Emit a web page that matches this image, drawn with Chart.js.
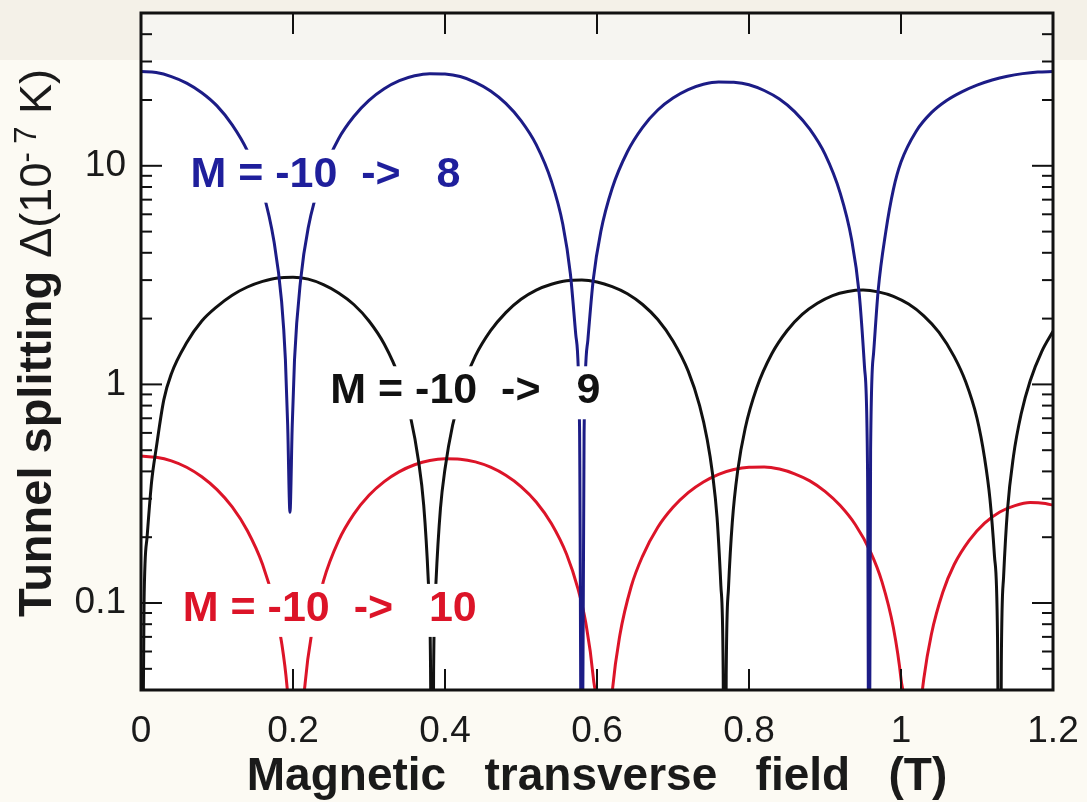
<!DOCTYPE html>
<html>
<head>
<meta charset="utf-8">
<script src="https://cdn.jsdelivr.net/npm/chart.js@4.4.1/dist/chart.umd.min.js"></script>
<style>
  html, body { margin: 0; padding: 0; background: #fcfaf3; }
  #wrap { width: 1087px; height: 802px; }
</style>
</head>
<body>
<div id="wrap"><canvas id="c"></canvas></div>
<script>
// field values (T) and tunnel splitting (10^-7 K)
const blueX = [0,0.02,0.04,0.06,0.08,0.10,0.12,0.14,0.16,0.175,0.185,0.19,0.193,0.196,0.199,0.202,0.21,0.22,0.24,0.26,0.28,0.30,0.32,0.34,0.36,0.38,0.40,0.42,0.44,0.46,0.48,0.50,0.52,0.54,0.555,0.565,0.572,0.577,0.58,0.583,0.588,0.595,0.605,0.62,0.64,0.66,0.68,0.70,0.72,0.74,0.76,0.78,0.80,0.82,0.84,0.86,0.88,0.90,0.92,0.935,0.945,0.952,0.956,0.958,0.960,0.964,0.97,0.98,0.99,1.0,1.02,1.04,1.06,1.08,1.10,1.12,1.14,1.16,1.18,1.20];
const blueY = [27,26.7,25.6,23.9,21.6,18.8,15.4,11.7,7.7,4.5,2.4,1.3,0.65,0.26,0.65,1.3,3.0,5.2,9.3,13.3,16.8,19.9,22.5,24.5,25.8,26.4,26.3,25.6,24.1,22.0,19.3,16.1,12.5,8.5,5.4,3.2,1.7,0.65,0.005,0.6,1.6,3.0,5.0,7.9,11.6,15.0,18.0,20.4,22.3,23.6,24.2,24.1,23.5,22.1,20.2,17.7,14.7,11.3,7.5,4.6,2.6,1.2,0.4,0.005,0.5,1.4,2.7,5.0,7.8,10.4,14.4,17.5,19.9,21.8,23.4,24.7,25.7,26.4,26.85,27.0];

const blackX = [0,0.004,0.008,0.014,0.02,0.03,0.04,0.06,0.08,0.10,0.12,0.14,0.16,0.18,0.20,0.22,0.24,0.26,0.28,0.30,0.32,0.34,0.355,0.365,0.372,0.378,0.381,0.383,0.385,0.388,0.394,0.40,0.41,0.425,0.44,0.46,0.48,0.50,0.52,0.54,0.56,0.58,0.60,0.62,0.64,0.66,0.68,0.70,0.72,0.735,0.745,0.752,0.758,0.763,0.766,0.768,0.770,0.773,0.778,0.785,0.795,0.81,0.83,0.85,0.87,0.89,0.91,0.93,0.95,0.97,0.99,1.01,1.03,1.05,1.07,1.085,1.10,1.11,1.117,1.123,1.127,1.130,1.132,1.135,1.14,1.148,1.158,1.17,1.185,1.2];
const blackY = [0.001,0.10,0.20,0.36,0.51,0.85,1.12,1.55,1.95,2.27,2.56,2.79,2.96,3.07,3.09,3.03,2.86,2.62,2.32,1.95,1.53,1.07,0.70,0.45,0.28,0.127,0.05,0.001,0.049,0.122,0.27,0.41,0.65,1.01,1.35,1.76,2.13,2.45,2.70,2.87,2.98,3.0,2.94,2.80,2.60,2.32,1.98,1.58,1.15,0.80,0.56,0.39,0.245,0.12,0.05,0.001,0.047,0.117,0.234,0.40,0.63,0.96,1.38,1.76,2.09,2.35,2.55,2.66,2.70,2.65,2.53,2.33,2.06,1.73,1.34,1.03,0.70,0.46,0.30,0.164,0.07,0.001,0.053,0.132,0.264,0.47,0.73,1.04,1.41,1.75];

const redX = [0,0.02,0.04,0.06,0.08,0.10,0.12,0.14,0.16,0.175,0.185,0.192,0.198,0.204,0.21,0.216,0.225,0.24,0.26,0.28,0.30,0.32,0.34,0.36,0.38,0.40,0.42,0.44,0.46,0.48,0.50,0.52,0.54,0.56,0.575,0.585,0.595,0.602,0.608,0.614,0.62,0.63,0.645,0.66,0.68,0.70,0.72,0.74,0.76,0.78,0.80,0.82,0.84,0.86,0.88,0.90,0.92,0.94,0.96,0.975,0.99,1.0,1.007,1.014,1.02,1.025,1.03,1.04,1.055,1.07,1.09,1.11,1.13,1.15,1.17,1.19,1.2];
const redY = [0.47,0.464,0.447,0.418,0.378,0.330,0.275,0.214,0.150,0.100,0.066,0.042,0.021,0.001,0.021,0.043,0.074,0.126,0.193,0.255,0.311,0.359,0.399,0.429,0.449,0.457,0.455,0.442,0.418,0.384,0.341,0.290,0.231,0.167,0.116,0.082,0.046,0.021,0.001,0.0195,0.039,0.071,0.119,0.164,0.222,0.274,0.320,0.358,0.388,0.408,0.418,0.419,0.410,0.390,0.362,0.324,0.279,0.228,0.171,0.125,0.077,0.045,0.023,0.001,0.017,0.031,0.045,0.072,0.112,0.150,0.194,0.232,0.261,0.279,0.288,0.285,0.280];

const seriesLabels = ['M = -10  ->   8', 'M = -10  ->   9', 'M = -10  ->   10'];
const xTicks = [0, 0.2, 0.4, 0.6, 0.8, 1, 1.2];
const yTicks = [0.1, 1, 10];

const FONT = '"Liberation Sans", Arial, Helvetica, sans-serif';
const BLUE = '#1c1c86';
const RED = '#dc1428';
const BLACK = '#111111';

function pts(xs, ys) {
    return xs.map((x, i) => ({ x: x, y: ys[i] }));
}

function line(ctx, x1, y1, x2, y2) {
    ctx.beginPath();
    ctx.moveTo(x1, y1);
    ctx.lineTo(x2, y2);
    ctx.stroke();
}

// curve labels sit on white boxes that hide the lines behind them
const tags = [
    { text: seriesLabels[0], x: 0.065, y: 9.4, color: '#1f1f9c' },
    { text: seriesLabels[1], x: 0.249, y: 0.96, color: BLACK },
    { text: seriesLabels[2], x: 0.055, y: 0.097, color: RED }
];

const decor = {
    id: 'decor',
    beforeDraw(chart) {
        const { ctx, chartArea: a } = chart;
        ctx.save();
        ctx.fillStyle = '#fcfaf3';
        ctx.fillRect(0, 0, chart.width, chart.height);
        ctx.fillStyle = '#ffffff';
        ctx.fillRect(a.left, a.top, a.right - a.left, a.bottom - a.top);
        ctx.fillStyle = 'rgba(220,214,200,0.25)';
        ctx.fillRect(0, 0, chart.width, 60);
        ctx.restore();
    },
    afterDatasetsDraw(chart) {
        const { ctx } = chart;
        const xs = chart.scales.x, ys = chart.scales.y;
        ctx.save();
        ctx.font = 'bold 43px ' + FONT;
        ctx.textBaseline = 'alphabetic';
        tags.forEach(t => {
            const px = xs.getPixelForValue(t.x);
            const cy = ys.getPixelForValue(t.y);
            const base = cy + 15;
            const w = ctx.measureText(t.text).width;
            ctx.fillStyle = '#ffffff';
            ctx.fillRect(px - 5, base - 37, w + 10, 53);
            ctx.fillStyle = t.color;
            ctx.fillText(t.text, px, base);
        });
        ctx.restore();
    },
    afterDraw(chart) {
        const { ctx, chartArea: a } = chart;
        const xs = chart.scales.x, ys = chart.scales.y;
        ctx.save();
        ctx.strokeStyle = '#111';
        ctx.lineWidth = 2;
        xTicks.forEach(v => {
            const p = xs.getPixelForValue(v);
            line(ctx, p, a.bottom, p, a.bottom - 21);
            line(ctx, p, a.top, p, a.top + 21);
        });
        [0.01, 0.1, 1, 10].forEach(d => {
            for (let k = 1; k <= 9; k++) {
                const v = k * d;
                if (v < ys.min - 1e-9 || v > ys.max + 1e-9) continue;
                const p = ys.getPixelForValue(v);
                const len = k === 1 ? 21 : 11;
                line(ctx, a.left, p, a.left + len, p);
                line(ctx, a.right, p, a.right - len, p);
            }
        });
        ctx.lineWidth = 3;
        ctx.strokeRect(a.left, a.top, a.right - a.left, a.bottom - a.top);

        // axis titles
        ctx.fillStyle = '#1a1a1a';
        ctx.textBaseline = 'alphabetic';
        ctx.textAlign = 'center';
        ctx.font = 'bold 46px ' + FONT;
        ctx.fillText('Magnetic   transverse   field   (T)', (a.left + a.right) / 2, 790);

        const parts = [
            { t: 'Tunnel splitting ', f: 'bold 47px ' + FONT, dy: 0 },
            { t: '\u0394(10', f: '45px ' + FONT, dy: 0 },
            { t: '- 7', f: '31px ' + FONT, dy: -15 },
            { t: ' K)', f: '45px ' + FONT, dy: 0 }
        ];
        ctx.textAlign = 'left';
        let total = 0;
        parts.forEach(p => { ctx.font = p.f; p.w = ctx.measureText(p.t).width; total += p.w; });
        ctx.translate(51, 343);
        ctx.rotate(-Math.PI / 2);
        let x = -total / 2;
        parts.forEach(p => {
            ctx.font = p.f;
            ctx.fillText(p.t, x, p.dy);
            x += p.w;
        });
        ctx.restore();
    }
};

const ctx = document.getElementById('c').getContext('2d');

new Chart(ctx, {
    type: 'scatter',
    data: {
        datasets: [
            { label: seriesLabels[0], data: pts(blueX, blueY), borderColor: BLUE },
            { label: seriesLabels[1], data: pts(blackX, blackY), borderColor: BLACK },
            { label: seriesLabels[2], data: pts(redX, redY), borderColor: RED }
        ].map(d => Object.assign(d, {
            showLine: true,
            borderWidth: 3,
            pointRadius: 0,
            cubicInterpolationMode: 'monotone',
            clip: 0
        }))
    },
    plugins: [decor],
    options: {
        responsive: true,
        maintainAspectRatio: false,
        animation: false,
        layout: { padding: { left: 0, right: 34, top: 13, bottom: 0 } },
        plugins: {
            legend: { display: false },
            tooltip: { enabled: false }
        },
        scales: {
            x: {
                type: 'linear',
                min: 0,
                max: 1.2,
                grid: { display: false },
                border: { display: false },
                afterBuildTicks: s => { s.ticks = xTicks.map(v => ({ value: v })); },
                afterFit: s => {
                    s.height = 112;
                    s.paddingLeft = 0;
                    s.paddingRight = 0;
                },
                ticks: {
                    font: { family: FONT, size: 37 },
                    color: '#1a1a1a',
                    padding: 12,
                    maxRotation: 0,
                    autoSkip: false,
                    callback: v => String(+v.toFixed(1))
                }
            },
            y: {
                type: 'logarithmic',
                min: 0.04,
                max: 50,
                grid: { display: false },
                border: { display: false },
                afterBuildTicks: s => { s.ticks = yTicks.map(v => ({ value: v })); },
                afterFit: s => {
                    s.width = 141;
                    s.paddingTop = 0;
                    s.paddingBottom = 0;
                },
                ticks: {
                    font: { family: FONT, size: 37 },
                    color: '#1a1a1a',
                    padding: 7,
                    autoSkip: false,
                    callback: v => String(v)
                }
            }
        }
    }
});
</script>
</body>
</html>
